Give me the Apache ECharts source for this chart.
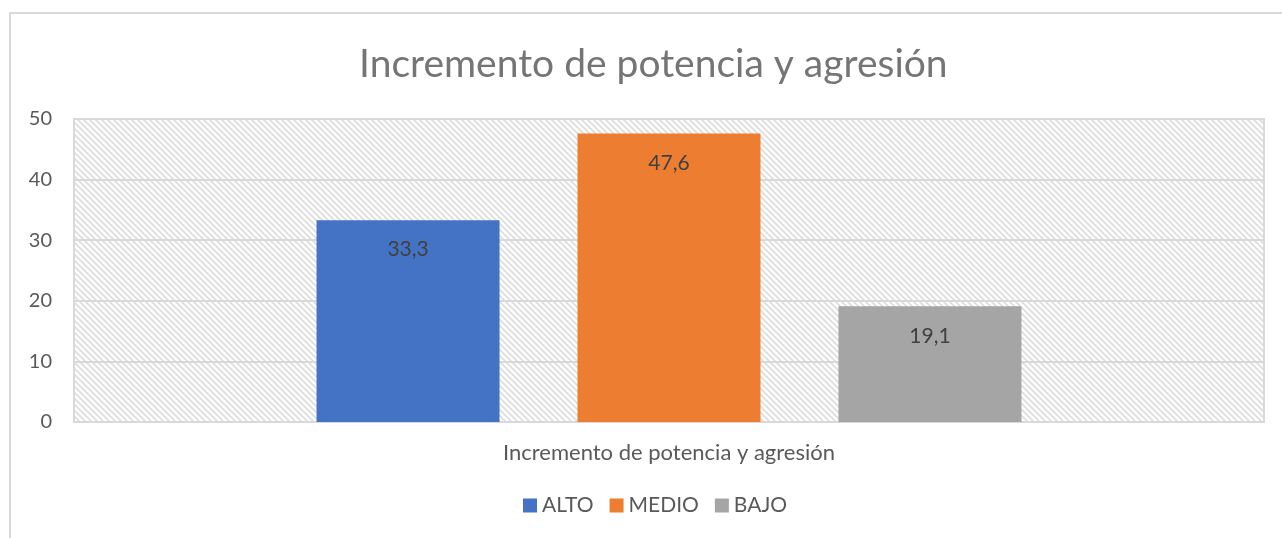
<!DOCTYPE html>
<html>
<head>
<meta charset="utf-8">
<script src="https://cdn.jsdelivr.net/npm/echarts@6/dist/echarts.min.js"></script>
<style>
  html, body { margin: 0; padding: 0; background: #fff; }
  #chart { width: 1282px; height: 538px; }
</style>
</head>
<body>
<div id="chart"></div>
<script>
var categories = ["Incremento de potencia y agresión"];
var seriesNames = ["ALTO", "MEDIO", "BAJO"];
var alto = [33.3];
var medio = [47.6];
var bajo = [19.1];
var colors = ["#4472C4", "#ED7D31", "#A5A5A5"];

// hatch tile for the plot area (downward diagonal)
function makeHatch() {
  var c = document.createElement("canvas");
  c.width = 6;
  c.height = 6;
  var ctx = c.getContext("2d");
  ctx.fillStyle = "#ffffff";
  ctx.fillRect(0, 0, 6, 6);
  ctx.strokeStyle = "#dcdcdc";
  ctx.lineWidth = 1.6;
  ctx.beginPath();
  ctx.moveTo(-1, -1); ctx.lineTo(7, 7);
  ctx.moveTo(-4, 2); ctx.lineTo(2, 8);
  ctx.moveTo(4, -2); ctx.lineTo(10, 4);
  ctx.stroke();
  return c;
}

var chart = echarts.init(document.getElementById("chart"));
var font = "Lato, sans-serif";

function bar(name, data, color) {
  return {
    name: name,
    type: "bar",
    data: data,
    barWidth: 183,
    barGap: "42.6%",
    itemStyle: { color: color },
    label: {
      show: true,
      position: "insideTop",
      distance: 19,
      color: "#404040",
      fontFamily: font,
      fontSize: 21,
      formatter: function (p) { return String(p.value).replace(".", ","); }
    }
  };
}

chart.setOption({
  animation: false,
  textStyle: { fontFamily: font },
  title: {
    text: "Incremento de potencia y agresión",
    left: 354,
    top: 40,
    textStyle: { color: "#757575", fontSize: 39, fontWeight: "normal", fontFamily: font }
  },
  graphic: [{
    type: "polyline",
    shape: { points: [[10, 538], [10, 13], [1282, 13]] },
    style: { stroke: "#d9d9d9", lineWidth: 2, fill: null }
  }],
  legend: {
    bottom: 17,
    left: 518,
    itemWidth: 14,
    itemHeight: 14,
    itemGap: 16,
    icon: "rect",
    textStyle: { color: "#595959", fontSize: 21, fontFamily: font },
    data: seriesNames
  },
  grid: {
    left: 74,
    right: 18,
    top: 119,
    bottom: 116,
    show: true,
    borderColor: "#d9d9d9",
    borderWidth: 2,
    backgroundColor: { image: makeHatch(), repeat: "repeat" }
  },
  xAxis: {
    type: "category",
    data: categories,
    axisLine: { show: false },
    axisTick: { show: false },
    axisLabel: { color: "#595959", fontSize: 22, margin: 20, fontFamily: font }
  },
  yAxis: {
    type: "value",
    min: 0,
    max: 50,
    interval: 10,
    axisLine: { show: false },
    axisTick: { show: false },
    axisLabel: { color: "#595959", fontSize: 20, margin: 22, fontFamily: font },
    splitLine: { lineStyle: { color: "#d9d9d9", width: 2 } }
  },
  series: [
    bar(seriesNames[0], alto, colors[0]),
    bar(seriesNames[1], medio, colors[1]),
    bar(seriesNames[2], bajo, colors[2])
  ]
});
window.addEventListener("resize", function () { chart.resize(); });
</script>
</body>
</html>
